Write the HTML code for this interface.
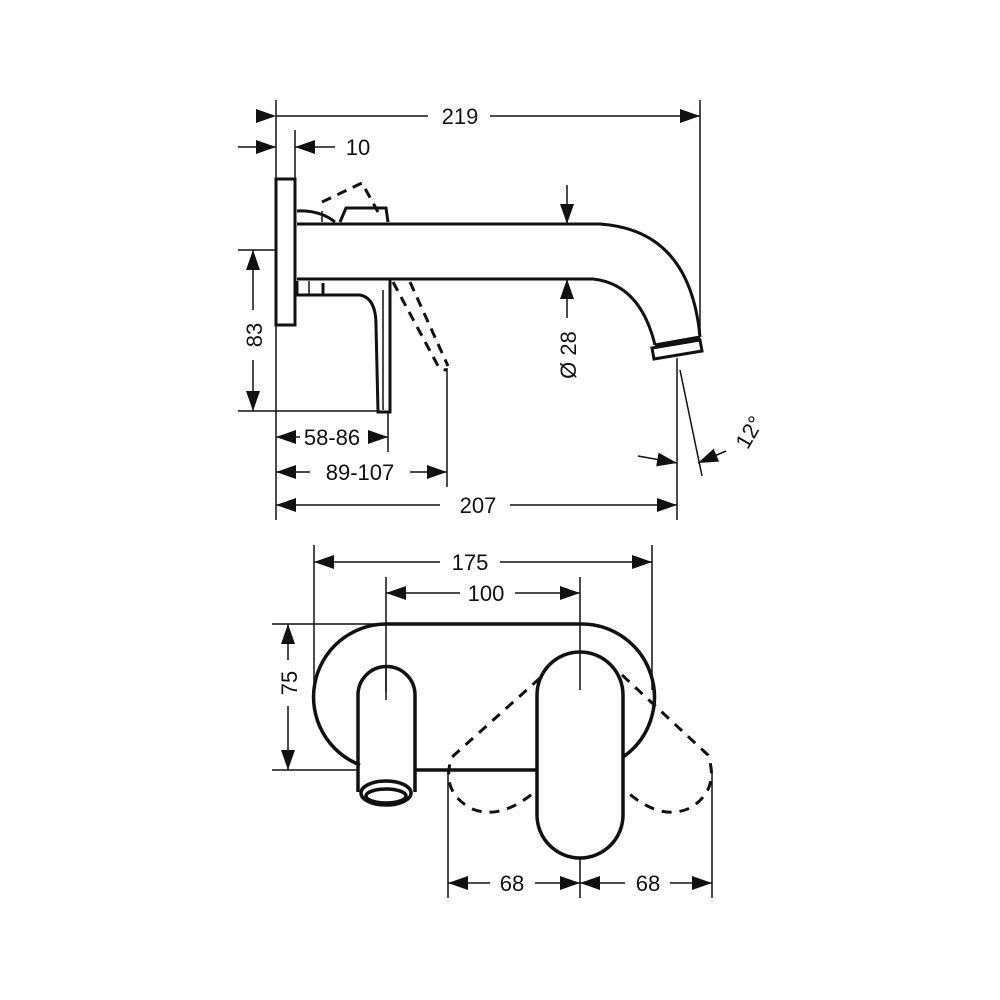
<!DOCTYPE html>
<html><head><meta charset="utf-8"><style>
html,body{margin:0;padding:0;background:#fff;}
svg{display:block;}
text{font-family:"Liberation Sans",sans-serif;font-size:22px;fill:#111;}
</style></head><body>
<svg width="1000" height="1000" viewBox="0 0 1000 1000" xmlns="http://www.w3.org/2000/svg">
<defs>
<marker id="a" markerWidth="20" markerHeight="14" refX="20" refY="7" orient="auto" markerUnits="userSpaceOnUse"><path d="M0,0 L20,7 L0,14 Z" fill="#111"/></marker>
</defs>
<g stroke="#111" fill="none">
<g stroke-width="1.5">
<line x1="276" y1="100" x2="276" y2="520"/>
<line x1="700" y1="100" x2="700" y2="335"/>
<line x1="295" y1="130" x2="295" y2="180"/>
<line x1="238" y1="250" x2="276" y2="250"/>
<line x1="238" y1="411" x2="380" y2="411"/>
<line x1="388" y1="412" x2="388" y2="452"/>
<line x1="447" y1="368" x2="447" y2="487"/>
<line x1="677" y1="358" x2="677" y2="520"/>
<line x1="680" y1="370" x2="702" y2="476"/>
<line x1="276" y1="116" x2="428" y2="116" marker-start="url(#a)"/>
<line x1="490" y1="116" x2="700" y2="116" marker-end="url(#a)"/>
<line x1="238" y1="147" x2="276" y2="147" marker-end="url(#a)"/>
<line x1="335" y1="147" x2="295" y2="147" marker-end="url(#a)"/>
<line x1="253" y1="310" x2="253" y2="250" marker-end="url(#a)"/>
<line x1="253" y1="360" x2="253" y2="411" marker-end="url(#a)"/>
<line x1="300" y1="437" x2="276" y2="437" marker-end="url(#a)"/>
<line x1="368" y1="437" x2="388" y2="437" marker-end="url(#a)"/>
<line x1="310" y1="472" x2="276" y2="472" marker-end="url(#a)"/>
<line x1="410" y1="472" x2="447" y2="472" marker-end="url(#a)"/>
<line x1="440" y1="505" x2="276" y2="505" marker-end="url(#a)"/>
<line x1="510" y1="505" x2="677" y2="505" marker-end="url(#a)"/>
<line x1="567" y1="185" x2="567" y2="224" marker-end="url(#a)"/>
<line x1="567" y1="318" x2="567" y2="279" marker-end="url(#a)"/>
<line x1="638" y1="456" x2="677" y2="463" marker-end="url(#a)"/>
<line x1="726" y1="451" x2="698" y2="463" marker-end="url(#a)"/>
<line x1="314" y1="545" x2="314" y2="700"/>
<line x1="652" y1="545" x2="652" y2="690"/>
<line x1="386" y1="577" x2="386" y2="700"/>
<line x1="580" y1="577" x2="580" y2="690"/>
<line x1="580" y1="810" x2="580" y2="898"/>
<line x1="272" y1="624" x2="400" y2="624"/>
<line x1="272" y1="770" x2="358" y2="770"/>
<line x1="448" y1="770" x2="448" y2="898"/>
<line x1="712" y1="770" x2="712" y2="898"/>
<line x1="440" y1="562" x2="314" y2="562" marker-end="url(#a)"/>
<line x1="500" y1="562" x2="652" y2="562" marker-end="url(#a)"/>
<line x1="460" y1="593" x2="386" y2="593" marker-end="url(#a)"/>
<line x1="515" y1="593" x2="580" y2="593" marker-end="url(#a)"/>
<line x1="288" y1="660" x2="288" y2="624" marker-end="url(#a)"/>
<line x1="288" y1="706" x2="288" y2="770" marker-end="url(#a)"/>
<line x1="490" y1="883" x2="448" y2="883" marker-end="url(#a)"/>
<line x1="535" y1="883" x2="580" y2="883" marker-end="url(#a)"/>
<line x1="625" y1="883" x2="580" y2="883" marker-end="url(#a)"/>
<line x1="670" y1="883" x2="712" y2="883" marker-end="url(#a)"/>
</g>
<g stroke-width="3">
<rect x="276" y="179" width="19" height="146" fill="#fff"/>
<path d="M297,224 L600,224 Q690,230 700,337"/>
<path d="M297,279 L593,279 Q640,284 655,345"/>
<path d="M655,345 L700,337"/>
<path d="M652,348 L700,340 L702,351 L654,359 Z"/>
<path d="M297,211 Q320,210 335,222 M340,222 L346,208 L386,208 L388,222"/>
<path d="M297,281 L297,295 L323,295 L323,283 M323,295 L360,295 Q376,298 376,325 L378,412 L390,412 L390,280"/>
</g>
<g stroke-width="1.5">
<line x1="322" y1="211" x2="322" y2="222"/>
<line x1="309" y1="281" x2="309" y2="294"/>
<line x1="383" y1="290" x2="383" y2="410"/>
</g>
<g stroke-width="3" stroke-dasharray="10,7">
<path d="M322,202 L362,183 L378,212"/>
<path d="M393,282 L437,364 Q440,370 447,370"/>
<path d="M410,282 L448,366"/>
</g>
<g stroke-width="3.5">
<path d="M360,765 A73,73 0 0 1 386,624 L580,624 A73,73 0 0 1 623,757"/>
<line x1="415" y1="770" x2="537" y2="770"/>
<path d="M358,792 L358,695 A28.5,28.5 0 0 1 415,695 L415,792"/>
<ellipse cx="386" cy="793" rx="25" ry="12" fill="#fff"/>
<ellipse cx="386" cy="796" rx="20" ry="7"/>
<rect x="537" y="652" width="86" height="206" rx="43" fill="#fff"/>
</g>
<g stroke-width="3" stroke-dasharray="10,8">
<path d="M540,678 L452,757 Q440,790 470,808 Q500,822 537,790"/>
<path d="M622,675 L708,755 Q720,790 690,808 Q660,822 625,790"/>
</g>
<g stroke-width="1.5">
<line x1="580" y1="652" x2="580" y2="690"/>
<line x1="386" y1="667" x2="386" y2="692"/>
</g>
</g>
<text x="460" y="124" text-anchor="middle">219</text>
<text x="358" y="155" text-anchor="middle">10</text>
<text x="332" y="445" text-anchor="middle">58-86</text>
<text x="360" y="480" text-anchor="middle">89-107</text>
<text x="478" y="513" text-anchor="middle">207</text>
<text transform="translate(262,335) rotate(-90)" text-anchor="middle">83</text>
<text transform="translate(576,355) rotate(-90)" text-anchor="middle">Ø 28</text>
<text transform="translate(756,436) rotate(-60)" text-anchor="middle">12°</text>
<text x="470" y="570" text-anchor="middle">175</text>
<text x="486" y="601" text-anchor="middle">100</text>
<text transform="translate(297,683) rotate(-90)" text-anchor="middle">75</text>
<text x="512" y="891" text-anchor="middle">68</text>
<text x="648" y="891" text-anchor="middle">68</text>
</svg>
</body></html>
